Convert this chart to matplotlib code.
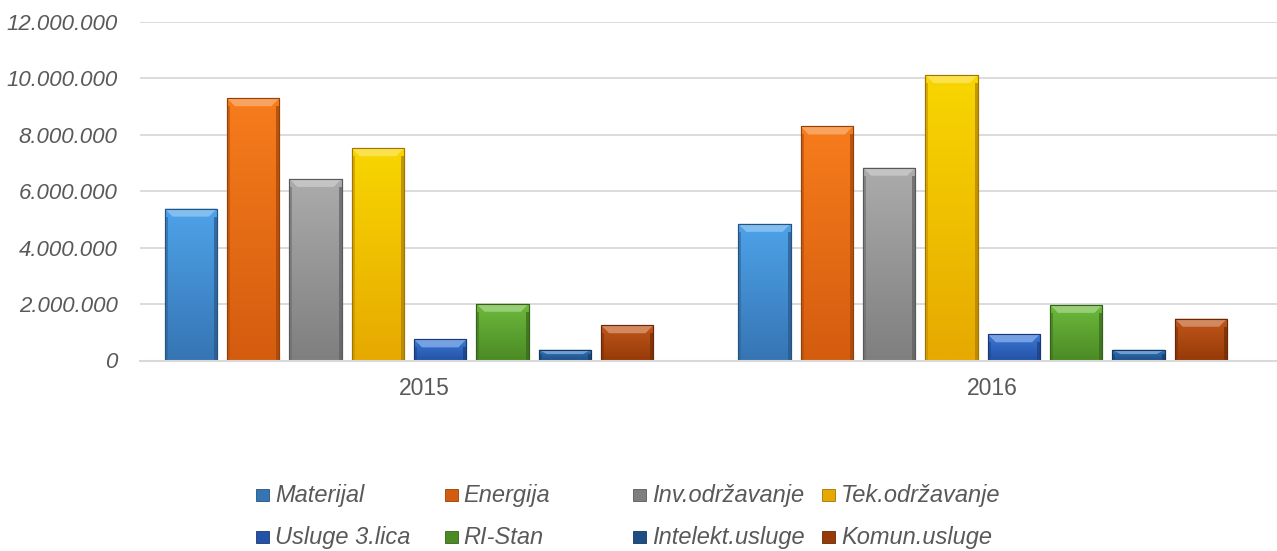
import matplotlib.pyplot as plt
import matplotlib.colors as mcolors
from matplotlib.patches import Polygon, Rectangle
from matplotlib.ticker import FuncFormatter
import numpy as np

years = ["2015", "2016"]
series = ["Materijal", "Energija", "Inv.održavanje", "Tek.održavanje",
          "Usluge 3.lica", "RI-Stan", "Intelekt.usluge", "Komun.usluge"]
values_2015 = [5380000, 9290000, 6430000, 7520000, 750000, 2010000, 380000, 1250000]
values_2016 = [4840000, 8290000, 6830000, 10110000, 930000, 1970000, 380000, 1480000]
y_ticks = [0, 2000000, 4000000, 6000000, 8000000, 10000000, 12000000]

top_colors = ["#4da2e8", "#f77c1c", "#ababab", "#f8d600",
              "#3a78d6", "#6cb93c", "#2f74bb", "#c0561a"]
bottom_colors = ["#3675b4", "#d45c0f", "#7f7f7f", "#e6a900",
                 "#2452a6", "#4b8a25", "#1f4e84", "#963a08"]

plt.rcParams['font.family'] = ['Liberation Sans', 'DejaVu Sans']
text_color = "#595959"

W, H = 1277, 551
fig = plt.figure(figsize=(W / 100, H / 100), dpi=100)
ax = fig.add_axes([140 / W, 1 - 360.5 / H, 1 - 140 / W, (360.5 - 21.7) / H])

group_step = 9.2
bar_w = 0.84
xlim = (-0.815, 17.42)
ylim = (0, 12000000)

# pixel sizes in data units, for the bevel look
px_x = (xlim[1] - xlim[0]) / (W - 140)
px_y = (ylim[1] - ylim[0]) / (360.5 - 21.7)


def shade(c, f):
    c = np.array(mcolors.to_rgb(c))
    if f > 0:
        return tuple(c + (1 - c) * f)
    return tuple(c * (1 + f))


for g, vals in enumerate([values_2015, values_2016]):
    xs = g * group_step + np.arange(len(series))
    bars = ax.bar(xs, vals, width=bar_w, color=bottom_colors, zorder=2,
                  edgecolor=[shade(c, -0.25) for c in bottom_colors], linewidth=0.8)
    for i, rect in enumerate(bars):
        x0, w, h = rect.get_x(), rect.get_width(), rect.get_height()
        grad = np.linspace(mcolors.to_rgb(top_colors[i]), mcolors.to_rgb(bottom_colors[i]), 64)
        im = ax.imshow(grad[:, None, :], extent=[x0, x0 + w, 0, h], origin='upper',
                       aspect='auto', zorder=2.1, interpolation='bilinear')
        im.set_clip_path(rect)
        # top bevel highlight
        bh = min(8 * px_y, h * 0.4)
        bw = 8 * px_x
        ax.add_patch(Polygon([(x0, h), (x0 + w, h), (x0 + w - bw, h - bh), (x0 + bw, h - bh)],
                             closed=True, facecolor=shade(top_colors[i], 0.3),
                             edgecolor='none', zorder=2.2))
        # darker side edges
        sw = 3 * px_x
        ax.add_patch(Rectangle((x0, 0), sw, h - bh, facecolor=shade(bottom_colors[i], -0.15),
                               edgecolor='none', alpha=0.6, zorder=2.2))
        ax.add_patch(Rectangle((x0 + w - sw, 0), sw, h - bh, facecolor=shade(bottom_colors[i], -0.25),
                               edgecolor='none', alpha=0.7, zorder=2.2))
        ax.add_patch(Rectangle((x0, 0), w, h, facecolor='none',
                               edgecolor=shade(bottom_colors[i], -0.3), linewidth=0.8, zorder=2.3))

ax.set_xlim(*xlim)
ax.set_ylim(*ylim)
ax.set_yticks(y_ticks)
ax.yaxis.set_major_formatter(FuncFormatter(lambda v, p: f"{int(v):,}".replace(",", ".")))

# category centres as in a spreadsheet chart
span = xlim[1] - xlim[0]
ax.set_xticks([xlim[0] + span * (k + 0.5) / len(years) for k in range(len(years))])
ax.set_xticklabels(years)

for s in ["top", "right", "left"]:
    ax.spines[s].set_visible(False)
ax.spines["bottom"].set_color("#d9d9d9")
ax.spines["bottom"].set_linewidth(1.5)
ax.yaxis.grid(True, color="#d9d9d9", linewidth=1.3)
ax.set_axisbelow(True)

ax.tick_params(axis='y', length=0, pad=16, labelsize=16, labelcolor=text_color)
ax.tick_params(axis='x', length=0, pad=12, labelsize=16.5, labelcolor=text_color)
for lab in ax.get_yticklabels():
    lab.set_fontstyle('italic')

# legend, 4 columns x 2 rows at fixed column widths
for i, name in enumerate(series):
    col, row = i % 4, i // 4
    mx = 256 + 188.7 * col
    base = 502 + 42 * row
    fig.patches.append(Rectangle((mx / W, 1 - (base - 1) / H), 13 / W, 12 / H,
                                 transform=fig.transFigure, figure=fig,
                                 facecolor=bottom_colors[i],
                                 edgecolor=shade(bottom_colors[i], -0.3), linewidth=0.6))
    fig.text((mx + 19) / W, 1 - base / H, name, fontsize=17, style='italic',
             color=text_color, va='baseline', ha='left')

fig.savefig("out.png", dpi=100)
